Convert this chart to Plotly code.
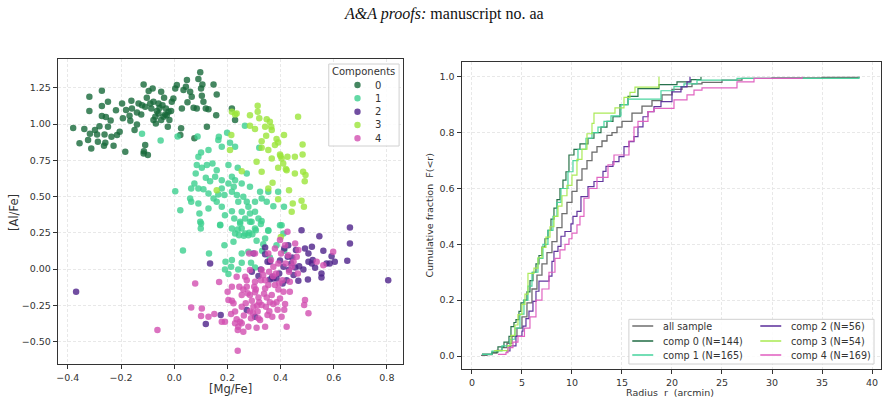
import plotly.graph_objects as go

W, H = 886, 403

# ---------------- data: scatter ([Mg/Fe], [Al/Fe]) per component ----------------
comp0_pts = [(-0.380,0.972),(-0.338,0.965),(-0.356,0.868),(-0.312,0.832),(-0.317,0.933),(-0.324,0.889),
(-0.319,1.188),(-0.319,1.089),(-0.272,1.229),(-0.272,1.124),(-0.249,1.153),(-0.272,1.055),(-0.257,1.048),
(-0.281,0.985),(-0.298,0.958),(-0.290,0.928),(-0.262,0.928),(-0.259,0.871),(-0.287,0.878),(-0.264,0.850),
(-0.228,0.850),(-0.249,0.981),(-0.239,1.025),(-0.219,1.094),(-0.236,0.912),(-0.215,0.924),(-0.205,0.947),
(-0.196,1.142),(-0.193,1.039),(-0.165,1.022),(-0.168,1.057),(-0.159,1.107),(-0.161,1.160),(-0.181,1.096),
(-0.184,0.809),(-0.149,0.958),(-0.140,0.997),(-0.124,1.066),(-0.121,1.130),(-0.115,1.273),(-0.109,0.855),
(-0.099,0.786),(-0.115,0.797),(-0.103,1.181),(-0.096,1.227),(-0.086,1.107),(-0.081,1.245),(-0.078,1.153),
(-0.071,1.050),(-0.069,1.004),(-0.059,1.073),(-0.049,1.222),(-0.038,1.181),(-0.044,1.130),(-0.034,1.066),
(-0.031,1.107),(-0.024,0.981),(-0.018,1.027),(-0.009,1.153),(-0.003,1.176),(0.004,1.245),(0.010,1.268),
(0.023,0.924),(0.026,0.970),(0.029,1.107),(0.035,1.234),(0.044,1.257),(0.048,1.303),(0.060,1.222),
(0.066,1.188),(0.076,0.901),(0.073,1.112),(0.085,1.107),(0.091,1.310),(0.098,1.356),(0.101,1.245),
(0.106,1.273),(0.104,1.195),(0.110,1.153),(0.119,1.107),(0.123,0.981),(0.129,1.101),(0.148,1.273),
(0.160,1.204),(0.158,1.061),(0.217,1.107),(0.229,1.027),(-0.040,1.050),(-0.028,1.061),(-0.049,1.027),
(-0.021,1.084),(-0.065,1.089),(-0.078,1.027),(-0.059,1.142),(-0.090,1.142),(-0.109,1.119),(-0.134,1.142),
(-0.114,0.813),(-0.012,1.090),(-0.055,1.110),(0.050,1.150),(-0.140,1.080)]

comp1_pts = [(-0.121,0.933),(-0.051,0.887),(0.013,0.914),(0.088,0.914),(0.168,0.912),(0.199,0.940),
(0.166,0.889),(0.179,0.843),(0.210,0.871),(0.229,0.843),(0.266,0.988),(0.320,0.836),(0.091,0.774),
(0.101,0.804),(0.129,0.820),(0.144,0.728),(0.123,0.717),(0.104,0.698),(0.085,0.717),(0.160,0.682),
(0.204,0.717),(0.239,0.698),(0.273,0.659),(0.081,0.659),(0.076,0.590),(0.091,0.556),(0.119,0.629),
(0.135,0.606),(0.154,0.636),(0.179,0.613),(0.217,0.636),(0.229,0.613),(0.204,0.590),(0.224,0.567),
(0.254,0.590),(0.285,0.567),(0.179,0.556),(0.166,0.514),(0.148,0.487),(0.129,0.521),(0.110,0.551),
(0.064,0.556),(0.004,0.537),(0.023,0.406),(0.064,0.464),(0.060,0.487),(0.091,0.452),(0.095,0.383),
(0.098,0.326),(0.100,0.280),(0.129,0.418),(0.160,0.464),(0.179,0.429),(0.189,0.510),(0.217,0.533),
(0.236,0.510),(0.241,0.464),(0.260,0.498),(0.273,0.464),(0.279,0.429),(0.304,0.464),(0.323,0.533),
(0.329,0.487),(0.354,0.533),(0.391,0.533),(0.348,0.464),(0.373,0.434),(0.413,0.429),(0.173,0.303),
(0.191,0.372),(0.217,0.399),(0.226,0.349),(0.254,0.395),(0.267,0.349),(0.285,0.383),(0.304,0.395),
(0.317,0.349),(0.291,0.326),(0.248,0.326),(0.217,0.280),(0.254,0.280),(0.304,0.280),(0.329,0.331),
(0.354,0.268),(0.404,0.303),(0.033,0.128),(0.101,0.314),(0.131,0.108),(0.173,0.305),(0.189,0.165),
(0.193,0.050),(0.191,-0.002),(0.204,-0.034),(0.214,0.016),(0.223,0.188),(0.229,0.245),(0.239,0.273),
(0.244,0.234),(0.254,0.108),(0.254,0.044),(0.248,0.314),(0.267,0.245),(0.279,0.234),(0.285,0.326),
(0.289,0.044),(0.294,0.241),(0.307,0.268),(0.310,0.195),(0.326,0.310),(0.331,0.126),(0.335,0.172),
(0.342,0.211),(0.354,0.264),(0.360,0.080),(0.385,0.165),(0.398,0.303),(0.411,0.245),(0.414,0.126),
(0.304,0.011),(0.217,0.062),(0.241,-0.002),(0.279,0.119),(0.262,0.230),(0.282,0.250)]

comp2_pts = [(-0.369,-0.156),(0.661,0.287),(0.546,0.227),(0.805,-0.076),(0.661,0.177),(0.651,0.057),
(0.592,0.089),(0.573,0.039),(0.561,0.126),(0.554,-0.030),(0.554,-0.057),(0.518,0.154),(0.505,0.108),
(0.492,0.142),(0.486,-0.002),(0.505,0.050),(0.518,0.039),(0.521,0.062),(0.503,-0.071),(0.467,-0.080),
(0.449,-0.041),(0.455,0.011),(0.440,0.039),(0.444,0.080),(0.414,0.142),(0.427,0.085),(0.411,0.016),
(0.408,-0.099),(0.423,-0.076),(0.385,-0.064),(0.373,-0.064),(0.369,-0.053),(0.360,-0.071),(0.351,0.050),
(0.342,0.103),(0.342,0.149),(0.360,0.050),(0.317,-0.048),(0.292,-0.018),(0.298,0.108),(0.326,-0.002),
(0.304,-0.328),(0.273,-0.282),(0.175,-0.317),(0.119,-0.378),(0.135,0.039),(0.479,0.268),(0.604,0.050),
(0.585,0.039),(0.429,0.165),(0.458,0.131),(0.470,0.020),(0.395,-0.030),(0.530,0.010),(0.432,-0.005),
(0.398,0.060)]

comp3_pts = [(0.314,1.126),(0.314,1.085),(0.285,1.061),(0.320,1.039),(0.348,1.032),(0.360,1.016),
(0.365,0.981),(0.367,0.958),(0.342,0.981),(0.304,0.965),(0.285,0.988),(0.217,1.085),(0.229,1.066),
(0.235,1.073),(0.215,0.924),(0.210,0.820),(0.466,1.050),(0.413,0.924),(0.385,0.896),(0.346,0.919),
(0.329,0.882),(0.329,0.836),(0.354,0.820),(0.379,0.855),(0.391,0.873),(0.398,0.790),(0.404,0.763),
(0.426,0.774),(0.454,0.774),(0.410,0.728),(0.367,0.763),(0.310,0.740),(0.329,0.671),(0.391,0.698),
(0.423,0.682),(0.454,0.659),(0.483,0.859),(0.483,0.790),(0.485,0.671),(0.494,0.648),(0.491,0.606),
(0.370,0.595),(0.354,0.556),(0.432,0.544),(0.391,0.482),(0.446,0.452),(0.479,0.471),(0.488,0.429),
(0.442,0.395),(0.254,0.675),(0.160,0.544),(0.401,0.222),(0.400,0.780),(0.420,0.690)]

comp4_pts = [(-0.063,-0.420),(0.239,-0.562),(0.079,-0.099),(0.064,-0.264),(0.104,-0.271),(0.101,-0.323),
(0.129,-0.328),(0.151,-0.310),(0.169,-0.089),(0.179,-0.362),(0.191,-0.362),(0.204,-0.213),(0.201,-0.156),
(0.214,-0.310),(0.217,-0.218),(0.229,-0.293),(0.235,-0.346),(0.239,-0.420),(0.241,-0.397),(0.248,-0.362),
(0.254,-0.374),(0.245,-0.122),(0.254,-0.179),(0.260,-0.140),(0.269,-0.236),(0.273,-0.122),(0.276,-0.167),
(0.282,0.108),(0.285,-0.293),(0.289,-0.339),(0.292,-0.218),(0.298,-0.259),(0.301,-0.122),(0.304,-0.087),
(0.307,-0.140),(0.310,-0.404),(0.314,-0.293),(0.317,-0.339),(0.320,-0.229),(0.323,-0.351),(0.326,-0.076),
(0.329,-0.007),(0.335,-0.041),(0.342,-0.133),(0.345,-0.259),(0.348,-0.195),(0.351,-0.316),(0.354,-0.110),
(0.357,-0.018),(0.360,-0.229),(0.364,0.062),(0.367,-0.179),(0.369,-0.328),(0.373,0.016),(0.379,-0.110),
(0.383,-0.030),(0.385,-0.229),(0.389,-0.280),(0.392,-0.140),(0.398,0.200),(0.402,0.108),(0.404,-0.328),
(0.407,-0.076),(0.411,-0.156),(0.414,-0.280),(0.419,0.039),(0.426,0.257),(0.429,0.096),(0.432,-0.018),
(0.435,-0.087),(0.442,0.016),(0.449,0.050),(0.455,0.177),(0.461,0.085),(0.465,-0.030),(0.492,-0.213),
(0.489,-0.248),(0.505,-0.305),(0.536,0.050),(0.561,0.027),(0.598,0.119),(0.317,-0.195),(0.304,-0.160),
(0.285,-0.007),(0.267,-0.053),(0.235,-0.053),(0.217,-0.122),(0.273,-0.076),(0.342,-0.076),(0.354,0.108),
(0.304,0.108),(0.423,-0.397),(0.279,-0.397),(0.260,-0.431),(0.342,-0.397),(0.229,-0.374),(0.373,-0.240),
(0.398,-0.202),(0.417,-0.240),(0.329,-0.248),(0.254,-0.259),(0.223,-0.236),(0.285,-0.179),(0.392,0.039),
(0.417,0.165),(0.379,0.142),(0.467,0.131),(0.435,-0.156),(0.338,-0.170),(0.296,-0.300),(0.262,-0.320),
(0.358,-0.290),(0.312,-0.250),(0.372,-0.050),(0.395,-0.100)]

comp_names = ["0", "1", "2", "3", "4"]
comp_counts = [144, 165, 56, 54, 169]
comp_colors = ["#17693a", "#3ccf8e", "#4e2289", "#9be53a", "#d24fb0"]
line_colors = ["#1f6b43", "#45d39c", "#5a2d9a", "#a8ea50", "#e05cbf"]
scatter_sets = [comp0_pts, comp1_pts, comp2_pts, comp3_pts, comp4_pts]

# ---------------- data: cumulative radial distributions ----------------
r_all = [0.9, 1.5, 2.0, 2.5, 3.0, 3.5, 4.0, 4.5, 5.0, 5.5, 6.0, 6.5, 7.0, 7.5, 8.0, 8.5, 9.0, 9.5, 10.0,
         10.5, 11.0, 11.5, 12.0, 12.5, 13.0, 13.5, 14.0, 14.5, 15.0, 16.0, 17.0, 18.0, 19.0, 20.0, 21.0,
         22.0, 23.0, 25.0, 27.0, 30.0, 35.0, 38.7]
F_all = [0.002, 0.005, 0.01, 0.02, 0.03, 0.045, 0.07, 0.10, 0.14, 0.19, 0.24, 0.29, 0.33, 0.37, 0.41,
         0.46, 0.51, 0.55, 0.59, 0.63, 0.67, 0.70, 0.73, 0.75, 0.77, 0.79, 0.80, 0.82, 0.84, 0.87, 0.895,
         0.915, 0.935, 0.955, 0.965, 0.975, 0.98, 0.988, 0.994, 0.996, 0.998, 1.0]

r_c0 = [1.0, 2.0, 2.6, 3.2, 3.7, 3.9, 4.2, 4.4, 4.7, 4.9, 5.2, 5.5, 5.8, 6.1, 6.4, 6.7, 7.0, 7.3, 7.6, 7.9,
        8.2, 8.5, 8.8, 9.1, 9.4, 9.7, 10.2, 10.8, 11.6, 12.2, 12.9, 13.5, 14.1, 14.8, 15.6, 16.6, 18.7,
        20.5, 21.9, 22.9]
F_c0 = [0.007, 0.014, 0.033, 0.05, 0.07, 0.105, 0.12, 0.13, 0.16, 0.19, 0.2, 0.23, 0.27, 0.30, 0.33,
        0.36, 0.39, 0.42, 0.45, 0.49, 0.53, 0.56, 0.60, 0.63, 0.66, 0.72, 0.74, 0.76, 0.78, 0.80, 0.82,
        0.84, 0.857, 0.90, 0.93, 0.958, 0.972, 0.982, 0.99, 1.0]

r_c1 = [1.0, 2.0, 3.0, 3.8, 4.3, 4.8, 5.2, 5.6, 6.0, 6.6, 7.1, 7.6, 8.1, 8.5, 8.9, 9.6, 10.1, 10.6, 11.4,
        12.0, 12.6, 13.2, 13.9, 14.9, 15.6, 18.9, 20.2, 21.2, 22.5, 26.5, 38.7]
F_c1 = [0.006, 0.018, 0.036, 0.06, 0.1, 0.15, 0.2, 0.25, 0.3, 0.35, 0.4, 0.45, 0.5, 0.55, 0.6, 0.66,
        0.7, 0.74, 0.78, 0.8, 0.82, 0.84, 0.86, 0.9, 0.92, 0.95, 0.965, 0.975, 0.988, 0.994, 1.0]

r_c2 = [3.4, 3.8, 4.4, 5.0, 5.1, 5.4, 5.7, 6.1, 6.4, 6.7, 7.7, 8.0, 8.2, 8.6, 8.9, 9.3, 9.9, 10.1, 10.5,
        10.9, 11.6, 12.2, 13.1, 13.4, 14.1, 14.7, 15.2, 15.7, 16.2, 16.6, 17.1, 17.6, 18.2, 18.9, 20.0,
        20.9, 21.5, 21.8]
F_c2 = [0.018, 0.036, 0.071, 0.089, 0.107, 0.134, 0.161, 0.196, 0.232, 0.268, 0.286, 0.339, 0.375,
        0.393, 0.429, 0.446, 0.473, 0.5, 0.518, 0.571, 0.607, 0.625, 0.661, 0.679, 0.696, 0.714, 0.75,
        0.768, 0.786, 0.821, 0.857, 0.875, 0.893, 0.911, 0.946, 0.964, 0.982, 1.0]

r_c3 = [2.2, 3.6, 3.9, 4.3, 4.6, 5.0, 5.3, 5.6, 6.2, 6.6, 7.0, 7.4, 7.8, 8.2, 8.6, 9.0, 9.5, 10.0, 10.5,
        11.0, 11.5, 12.0, 12.2, 14.3, 15.2, 15.8, 16.3, 18.7]
F_c3 = [0.019, 0.037, 0.074, 0.111, 0.148, 0.185, 0.222, 0.296, 0.315, 0.352, 0.389, 0.426, 0.463, 0.5,
        0.537, 0.574, 0.611, 0.648, 0.704, 0.741, 0.796, 0.833, 0.87, 0.889, 0.926, 0.944, 0.963, 1.0]

r_c4 = [2.6, 3.4, 3.6, 4.1, 4.6, 5.25, 5.8, 6.4, 7.0, 7.7, 8.3, 8.8, 9.3, 9.7, 10.0, 10.5, 10.8, 11.2,
        11.7, 12.5, 13.6, 14.2, 15.7, 16.2, 16.6, 17.6, 18.2, 20.2, 21.5, 22.2, 23.0, 26.5, 28.2, 33.0]
F_c4 = [0.006, 0.012, 0.03, 0.05, 0.07, 0.1, 0.14, 0.2, 0.24, 0.3, 0.35, 0.38, 0.4, 0.42, 0.44, 0.47,
        0.5, 0.565, 0.6, 0.64, 0.685, 0.72, 0.77, 0.82, 0.84, 0.875, 0.887, 0.917, 0.935, 0.952, 0.96,
        0.982, 0.994, 1.0]

cdf_r = [r_c0, r_c1, r_c2, r_c3, r_c4]
cdf_F = [F_c0, F_c1, F_c2, F_c3, F_c4]

mg_ticks = [-0.4, -0.2, 0.0, 0.2, 0.4, 0.6, 0.8]
al_ticks = [-0.5, -0.25, 0.0, 0.25, 0.5, 0.75, 1.0, 1.25]
r_ticks = [0, 5, 10, 15, 20, 25, 30, 35, 40]
f_ticks = [0.0, 0.2, 0.4, 0.6, 0.8, 1.0]

# ---------------- figure ----------------
fig = go.Figure()

for pts, col in zip(scatter_sets, comp_colors):
    fig.add_trace(go.Scatter(
        x=[p[0] for p in pts], y=[p[1] for p in pts], mode="markers",
        marker=dict(size=6.5, color=col, opacity=0.8, line=dict(width=0)),
        xaxis="x", yaxis="y", showlegend=False, hoverinfo="skip"))

fig.add_trace(go.Scatter(x=r_all, y=F_all, mode="lines", line=dict(color="#6e6e6e", width=1.3, shape="hv"),
                         xaxis="x2", yaxis="y2", showlegend=False))
for rr, ff, col in zip(cdf_r, cdf_F, line_colors):
    fig.add_trace(go.Scatter(x=rr, y=ff, mode="lines", line=dict(color=col, width=1.2, shape="hv"),
                             opacity=0.95, xaxis="x2", yaxis="y2", showlegend=False))

FONT = "DejaVu Sans"
TXT = "#333333"
axis_common = dict(showgrid=True, gridcolor="#e8e8e8", gridwidth=0.8, griddash="3px,2px",
                   showline=True, mirror=True, linecolor="#333333", linewidth=1.2,
                   ticks="outside", ticklen=4, tickwidth=1, tickcolor="#333333",
                   tickfont=dict(family=FONT, size=9.5, color=TXT), zeroline=False)


def px_x(p):
    return p / W


def px_y(p):
    return 1 - p / H


fig.update_layout(
    width=W, height=H, margin=dict(l=0, r=0, t=0, b=0),
    paper_bgcolor="white", plot_bgcolor="white", showlegend=False,
    xaxis=dict(domain=[px_x(56), px_x(402)], range=[-0.4375, 0.861], tickvals=mg_ticks,
               tickformat=".1f", anchor="y", **axis_common),
    yaxis=dict(domain=[px_y(364), px_y(59)], range=[-0.654, 1.448], tickvals=al_ticks,
               tickformat=".2f", anchor="x", **axis_common),
    xaxis2=dict(domain=[px_x(460.7), px_x(881)], range=[-1.03, 40.9], tickvals=r_ticks,
                tickformat="d", anchor="y2", **axis_common),
    yaxis2=dict(domain=[px_y(369), px_y(62)], range=[-0.0465, 1.053], tickvals=f_ticks,
                tickformat=".1f", anchor="x2", **axis_common),
)

ann = []
shapes = []
# page header
ann.append(dict(text="<i>A&amp;A proofs:</i> manuscript no. aa", x=0.5, y=px_y(14), xref="paper",
                yref="paper", showarrow=False, xanchor="center", yanchor="middle",
                font=dict(family="Liberation Serif", size=16, color="#111111")))
# axis titles
ann.append(dict(text="[Al/Fe]", x=px_x(12), y=px_y(212), xref="paper", yref="paper", showarrow=False,
                textangle=-90, xanchor="center", yanchor="middle", font=dict(family=FONT, size=11.5, color=TXT)))
ann.append(dict(text="[Mg/Fe]", x=px_x(229), y=px_y(389), xref="paper", yref="paper", showarrow=False,
                xanchor="center", yanchor="middle", font=dict(family=FONT, size=11.5, color=TXT)))
ann.append(dict(text="Cumulative fraction\u00a0\u00a0F(<r)", x=px_x(428), y=px_y(215.5), xref="paper",
                yref="paper", showarrow=False, textangle=-90, xanchor="center", yanchor="middle",
                font=dict(family=FONT, size=9.5, color=TXT)))
ann.append(dict(text="Radius\u00a0\u00a0r\u00a0\u00a0(arcmin)", x=px_x(670), y=px_y(392.5), xref="paper",
                yref="paper", showarrow=False, xanchor="center", yanchor="middle",
                font=dict(family=FONT, size=9.5, color=TXT)))

# left legend (Components)
shapes.append(dict(type="rect", xref="paper", yref="paper", x0=px_x(327.5), x1=px_x(398), y0=px_y(146),
                   y1=px_y(64), line=dict(color="#d0d0d0", width=1), fillcolor="rgba(255,255,255,0.85)",
                   layer="above"))
ann.append(dict(text="Components", x=px_x(362.7), y=px_y(71.5), xref="paper", yref="paper", showarrow=False,
                xanchor="center", yanchor="middle", font=dict(family=FONT, size=10, color=TXT)))
leg_rows = [85, 98.3, 111.7, 125, 138.3]
for name, col, yy in zip(comp_names, comp_colors, leg_rows):
    shapes.append(dict(type="circle", xref="paper", yref="paper", x0=px_x(356.3 - 3.2), x1=px_x(356.3 + 3.2),
                       y0=px_y(yy + 3.2), y1=px_y(yy - 3.2), fillcolor=col, opacity=0.8,
                       line=dict(width=0), layer="above"))
    ann.append(dict(text=name, x=px_x(372), y=px_y(yy), xref="paper", yref="paper", showarrow=False,
                    xanchor="left", yanchor="middle", font=dict(family=FONT, size=10, color=TXT)))

# right legend (two columns)
shapes.append(dict(type="rect", xref="paper", yref="paper", x0=px_x(628.3), x1=px_x(874), y0=px_y(364),
                   y1=px_y(319.3), line=dict(color="#d0d0d0", width=1), fillcolor="rgba(255,255,255,0.85)",
                   layer="above"))
leg_labels = ["all sample"] + [f"comp {n} (N={c})" for n, c in zip(comp_names, comp_counts)]
leg_cols = ["#6e6e6e"] + line_colors
rows_y = [326, 341, 355]
for i, (lab, col) in enumerate(zip(leg_labels, leg_cols)):
    c, r = divmod(i, 3)
    lx0 = 631.7 if c == 0 else 760
    tx = 660.7 if c == 0 else 789
    yy = rows_y[r]
    shapes.append(dict(type="line", xref="paper", yref="paper", x0=px_x(lx0), x1=px_x(lx0 + 21),
                       y0=px_y(yy), y1=px_y(yy), line=dict(color=col, width=1.5), layer="above"))
    ann.append(dict(text=lab, x=px_x(tx), y=px_y(yy), xref="paper", yref="paper", showarrow=False,
                    xanchor="left", yanchor="middle", font=dict(family=FONT, size=9.6, color=TXT)))

fig.update_layout(annotations=ann, shapes=shapes)
fig.write_html("out.html")
